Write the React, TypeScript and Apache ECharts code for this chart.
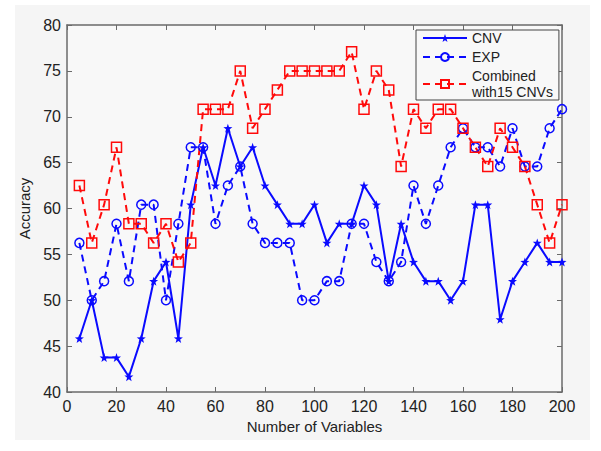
import React, { useEffect, useRef } from "react";
import * as echarts from "echarts";

const numVars = [5, 10, 15, 20, 25, 30, 35, 40, 45, 50, 55, 60, 65, 70, 75, 80, 85, 90, 95, 100, 105, 110, 115, 120, 125, 130, 135, 140, 145, 150, 155, 160, 165, 170, 175, 180, 185, 190, 195, 200];

const cnv = [45.83, 50, 43.75, 43.75, 41.67, 45.83, 52.08, 54.17, 45.83, 60.42, 66.67, 62.5, 68.75, 64.58, 66.67, 62.5, 60.42, 58.33, 58.33, 60.42, 56.25, 58.33, 58.33, 62.5, 60.42, 52.08, 58.33, 54.17, 52.08, 52.08, 50, 52.08, 60.42, 60.42, 47.92, 52.08, 54.17, 56.25, 54.17, 54.17];

const exp = [56.25, 50, 52.08, 58.33, 52.08, 60.42, 60.42, 50, 58.33, 66.67, 66.67, 58.33, 62.5, 64.58, 58.33, 56.25, 56.25, 56.25, 50, 50, 52.08, 52.08, 58.33, 58.33, 54.17, 52.08, 54.17, 62.5, 58.33, 62.5, 66.67, 68.75, 66.67, 66.67, 64.58, 68.75, 64.58, 64.58, 68.75, 70.83];

const combined = [62.5, 56.25, 60.42, 66.67, 58.33, 58.33, 56.25, 58.33, 54.17, 56.25, 70.83, 70.83, 70.83, 75, 68.75, 70.83, 72.92, 75, 75, 75, 75, 75, 77.08, 70.83, 75, 72.92, 64.58, 70.83, 68.75, 70.83, 70.83, 68.75, 66.67, 64.58, 68.75, 66.67, 64.58, 60.42, 56.25, 60.42];

const seriesNames = ["CNV", "EXP", "Combined\nwith15 CNVs"];
const xTicks = { min: 0, max: 200, interval: 20 };
const yTicks = { min: 40, max: 80, interval: 5 };

const STAR = "path://M0,-10 L2.35,-3.24 L9.51,-3.09 L3.8,1.24 L5.88,8.09 L0,4 L-5.88,8.09 L-3.8,1.24 L-9.51,-3.09 L-2.35,-3.24 Z";

export default function App() {
  const ref = useRef<HTMLDivElement>(null);
  useEffect(() => {
    if (!ref.current) return;
    const chart = echarts.init(ref.current, null, { renderer: "svg" });
    const blue = "#0a0aff";
    const red = "#ff0a0a";
    const axisColor = "#6a6a6a";
    const font = "Liberation Sans";
    const pair = (ys: number[]) => numVars.map((x, i) => [x, ys[i]]);
    const baseAxis = {
      axisLine: { show: true, onZero: false, lineStyle: { color: axisColor, width: 1.5 } },
      axisTick: { show: true, inside: true, length: 5, lineStyle: { color: axisColor, width: 1 } },
      splitLine: { show: false },
    };
    chart.setOption({
      animation: false,
      backgroundColor: "#ffffff",
      graphic: [
        { type: "rect", z: -10, shape: { x: 15, y: 5, width: 575, height: 435 }, style: { fill: "#f5f5f5" } },
      ],
      grid: { left: 67, right: 39, top: 25, bottom: 59, containLabel: false, show: true, backgroundColor: "#f8f8f8", borderWidth: 0 },
      xAxis: [
        {
          type: "value", ...xTicks, position: "bottom", ...baseAxis,
          name: "Number of Variables", nameLocation: "middle", nameGap: 27,
          nameTextStyle: { fontFamily: font, fontSize: 15, color: "#222" },
          axisLabel: { fontFamily: font, fontSize: 16, color: "#222", margin: 6 },
        },
        {
          type: "value", ...xTicks, position: "top", ...baseAxis,
          axisLabel: { show: false },
        },
      ],
      yAxis: [
        {
          type: "value", ...yTicks, position: "left", ...baseAxis,
          name: "Accuracy", nameLocation: "middle", nameGap: 33, nameRotate: 90,
          nameTextStyle: { fontFamily: font, fontSize: 15, color: "#222" },
          axisLabel: { fontFamily: font, fontSize: 16, color: "#222", margin: 6 },
        },
        {
          type: "value", ...yTicks, position: "right", ...baseAxis,
          axisLabel: { show: false },
        },
      ],
      legend: {
        left: 416, top: 30, orient: "vertical",
        backgroundColor: "#f8f8f8", borderColor: "#444", borderWidth: 1,
        padding: [0, 6, 0, 6], itemGap: 3, itemWidth: 44, itemHeight: 10,
        textStyle: { fontFamily: font, fontSize: 14, color: "#222", lineHeight: 16 },
        data: [
          { name: seriesNames[0] },
          { name: seriesNames[1] },
          { name: seriesNames[2] },
        ],
      },
      series: [
        {
          name: seriesNames[0], type: "line", data: pair(cnv),
          symbol: STAR, symbolSize: 9,
          itemStyle: { color: blue },
          lineStyle: { color: blue, width: 2, type: "solid" },
        },
        {
          name: seriesNames[1], type: "line", data: pair(exp),
          symbol: "circle", symbolSize: 9,
          itemStyle: { color: "rgba(0,0,0,0)", borderColor: blue, borderWidth: 1.5 },
          lineStyle: { color: blue, width: 2, type: [7, 5] },
        },
        {
          name: seriesNames[2], type: "line", data: pair(combined),
          symbol: "rect", symbolSize: 10,
          itemStyle: { color: "rgba(0,0,0,0)", borderColor: red, borderWidth: 1.5 },
          lineStyle: { color: red, width: 2, type: [7, 5] },
        },
      ],
    });
    return () => chart.dispose();
  }, []);
  return <div ref={ref} style={{ width: 601, height: 451, position: "absolute", left: 0, top: 0 }} />;
}
